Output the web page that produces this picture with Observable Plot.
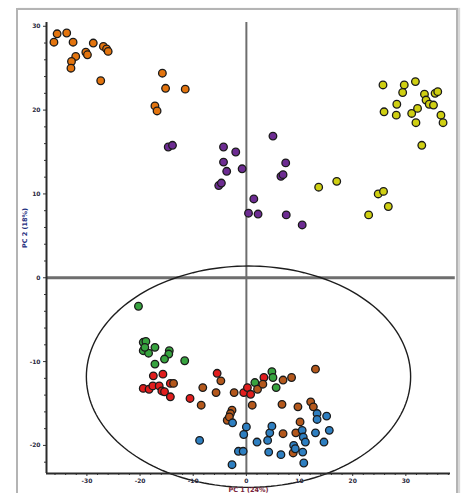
<!DOCTYPE html>
<html>
<head>
<meta charset="utf-8">
<script src="https://cdn.jsdelivr.net/npm/d3@7"></script>
<script src="https://cdn.jsdelivr.net/npm/@observablehq/plot@0.6"></script>
<style>
  html, body { margin: 0; padding: 0; background: #fff; }
  #wrap { position: relative; width: 467px; height: 493px; overflow: hidden; }
  #frame { position: absolute; left: 16px; top: 8px; width: 442px; height: 490px;
           border: 2px solid #b4b4b4; box-shadow: 2px 0 1px #d8d8d8; box-sizing: border-box; }
  #chart { position: absolute; left: 0; top: 0; }
  svg { font-family: "DejaVu Sans", sans-serif; }
</style>
</head>
<body>
<div id="wrap"><div id="frame"></div><div id="chart"></div></div>
<script>
// ---- data (score coordinates) ----
const orange = [[-35.6,29.1],[-33.8,29.2],[-36.2,28.1],[-32.6,28.1],[-28.8,28.0],[-26.9,27.6],[-26.3,27.3],[-26.0,27.0],
  [-30.2,26.9],[-29.9,26.6],[-32.1,26.4],[-32.9,25.8],[-33.0,25.0],[-27.4,23.5],[-15.8,24.4],[-15.2,22.6],[-11.5,22.5],
  [-17.2,20.5],[-16.8,19.9]];
const purple = [[-14.7,15.6],[-13.9,15.8],[-4.3,15.6],[-2.0,15.0],[-4.3,13.8],[-3.7,12.7],[-0.8,13.0],[-5.2,11.0],[-4.7,11.3],
  [5.0,16.9],[7.4,13.7],[6.5,12.1],[6.9,12.3],[1.4,9.4],[0.4,7.7],[2.2,7.6],[7.5,7.5],[10.5,6.3]];
const yellow = [[25.7,23.0],[29.7,23.0],[29.4,22.1],[31.8,23.4],[33.5,21.9],[33.8,21.2],[35.5,22.0],[36.0,22.2],[34.4,20.7],
  [35.2,20.6],[28.3,20.7],[25.9,19.8],[28.2,19.4],[31.1,19.6],[32.2,20.2],[31.9,18.5],[36.6,19.4],[37.0,18.5],[33.0,15.8],
  [13.6,10.8],[17.0,11.5],[24.8,10.0],[25.8,10.3],[26.7,8.5],[23.0,7.5]];
const green = [[-20.3,-3.4],[-19.4,-7.7],[-18.9,-7.6],[-19.4,-8.7],[-18.4,-9.0],[-19.1,-8.3],[-17.2,-8.3],[-14.5,-8.7],
  [-14.6,-9.1],[-15.4,-9.7],[-17.2,-10.3],[-11.6,-9.9],[1.6,-12.5],[4.8,-11.2],[5.0,-11.9],[5.6,-13.1]];
const red = [[-17.5,-11.7],[-15.7,-11.5],[-19.4,-13.2],[-18.3,-13.3],[-17.6,-12.9],[-16.4,-12.9],[-15.9,-13.5],[-15.4,-13.6],
  [-14.3,-12.6],[-14.3,-14.2],[-10.6,-14.4],[-5.5,-11.4],[-0.5,-13.7],[0.2,-13.1],[0.8,-13.9],[3.3,-11.9]];
const brown = [[-13.7,-12.6],[-8.2,-13.1],[-5.7,-13.7],[-4.8,-12.3],[-8.5,-15.2],[-2.3,-13.7],[-2.7,-15.8],[-3.0,-16.2],
  [-3.6,-17.0],[-3.2,-16.6],[1.1,-15.2],[2.1,-13.3],[3.1,-12.7],[6.9,-12.2],[8.5,-11.9],[13.0,-10.9],[6.7,-15.1],[9.7,-15.4],
  [12.1,-14.8],[12.6,-15.4],[10.1,-17.2],[6.9,-18.6],[9.3,-18.5],[8.8,-20.9]];
const blue = [[-2.6,-17.3],[0.0,-17.8],[-0.5,-18.7],[-8.8,-19.4],[-1.5,-20.7],[-0.6,-20.7],[-2.7,-22.3],[2.0,-19.6],[4.0,-19.4],
  [4.4,-18.5],[4.8,-17.7],[4.2,-20.8],[6.5,-21.1],[8.9,-20.0],[9.2,-20.4],[10.5,-18.2],[10.7,-19.0],[11.1,-19.6],[10.6,-20.8],
  [10.8,-22.1],[13.0,-18.5],[13.3,-16.2],[13.3,-16.9],[15.1,-16.5],[15.6,-18.2],[14.6,-19.6]];

const groups = [
  {name: "orange", pts: orange, color: "#e3740e"},
  {name: "purple", pts: purple, color: "#6d2c92"},
  {name: "yellow", pts: yellow, color: "#cfcf12"},
  {name: "green",  pts: green,  color: "#37a33f"},
  {name: "red",    pts: red,    color: "#e11d1d"},
  {name: "brown",  pts: brown,  color: "#b4581c"},
  {name: "blue",   pts: blue,   color: "#2e7fc1"}
];

const xTicks = [-30, -20, -10, 0, 10, 20, 30];
const yTicks = [-20, -10, 0, 10, 20, 30];
const xDomain = [-37.6, 38.4];
const yDomain = [-23.35, 30.45];
const ellipseCenter = [0.4, -11.8];
const ellipseRadii = [30.5, 13.2];
const xTitle = "PC 1 (24%)";
const yTitle = "PC 2 (18%)";

// ---- derived tables ----
const points = groups.flatMap(g => g.pts.map(([x, y]) => ({x, y, group: g.name, color: g.color})));
const ellipse = d3.range(0, 361, 2).map(a => {
  const t = a * Math.PI / 180;
  return {x: ellipseCenter[0] + ellipseRadii[0] * Math.cos(t), y: ellipseCenter[1] + ellipseRadii[1] * Math.sin(t)};
});
const xMinor = d3.range(-36, 38.1, 2).filter(v => !xTicks.includes(v));
const yMinor = d3.range(-22, 30.1, 2).filter(v => !yTicks.includes(v));

const chart = Plot.plot({
  width: 467, height: 493,
  marginLeft: 46, marginRight: 17, marginTop: 22, marginBottom: 20,
  x: {domain: xDomain, axis: null},
  y: {domain: yDomain, axis: null},
  style: {background: "transparent", overflow: "visible"},
  marks: [
    // origin cross
    Plot.ruleY([0], {x1: xDomain[0], x2: 39.3, stroke: "#6e6e6e", strokeWidth: 3}),
    Plot.ruleX([0], {y1: yDomain[0], y2: yDomain[1], stroke: "#6e6e6e", strokeWidth: 2}),
    // confidence ellipse
    Plot.line(ellipse, {x: "x", y: "y", stroke: "#1e1e1e", strokeWidth: 1.4}),
    // axes
    Plot.axisY({ticks: yMinor, tickSize: 2, stroke: "#333", text: null, label: null}),
    Plot.axisY({ticks: yTicks, tickSize: 3, tickPadding: 3, fontSize: 6, fontWeight: "bold", fill: "#2a2a40", stroke: "#333",
                tickFormat: d => String(d), label: null}),
    Plot.axisX({ticks: xMinor, tickSize: 2, stroke: "#333", text: null, label: null}),
    Plot.axisX({ticks: xTicks, tickSize: 3, tickPadding: 2, fontSize: 6, fontWeight: "bold", fill: "#2a2a40", stroke: "#333",
                tickFormat: d => String(d), label: null}),
    Plot.ruleX([xDomain[0]], {y1: yDomain[0], y2: yDomain[1], stroke: "#2b2b2b", strokeWidth: 2}),
    Plot.ruleY([yDomain[0]], {x1: xDomain[0], x2: xDomain[1], stroke: "#2b2b2b", strokeWidth: 2}),
    // scores
    Plot.dot(points, {x: "x", y: "y", r: 3.8, fill: "color", stroke: "#1a1a1a", strokeWidth: 1.3}),
    // axis titles
    Plot.text([yTitle], {frameAnchor: "left", dx: -22, rotate: -90, fontSize: 6.5, fontWeight: "bold", fill: "#1f2f80"}),
    Plot.text([xTitle], {frameAnchor: "bottom", dy: 18, fontSize: 6.5, fontWeight: "bold", fill: "#7a1f3a"})
  ]
});
document.getElementById("chart").appendChild(chart);
</script>
</body>
</html>
